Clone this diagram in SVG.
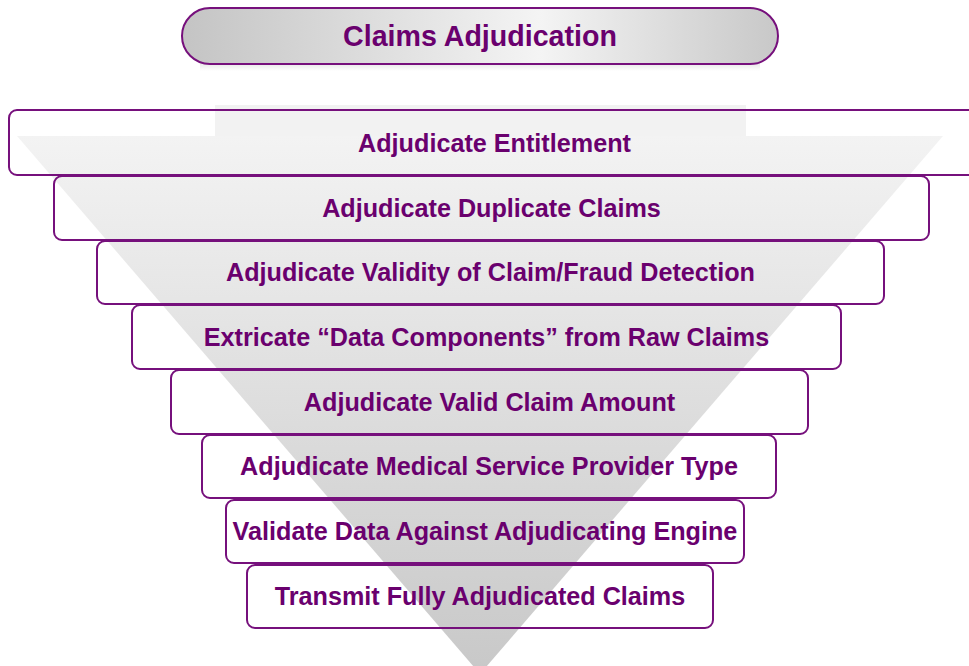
<svg xmlns="http://www.w3.org/2000/svg" width="969" height="666" viewBox="0 0 969 666">
  <defs>
    <linearGradient id="pillGrad" x1="0" y1="0" x2="1" y2="0">
      <stop offset="0" stop-color="#c4c4c4"/>
      <stop offset="0.6" stop-color="#f4f4f4"/>
      <stop offset="1" stop-color="#c8c8c8"/>
    </linearGradient>
    <linearGradient id="triGrad" x1="0" y1="136" x2="0" y2="674" gradientUnits="userSpaceOnUse">
      <stop offset="0" stop-color="#f3f3f3"/>
      <stop offset="1" stop-color="#c8c8c8"/>
    </linearGradient>
    <linearGradient id="shadowGrad" x1="0" y1="0" x2="0" y2="1">
      <stop offset="0" stop-color="#e6e6e6"/>
      <stop offset="1" stop-color="#ffffff"/>
    </linearGradient>
    <style>
      .box { fill: none; stroke: #76107c; stroke-width: 2; }
      .lbl { font-family: "Liberation Sans", Arial, sans-serif; font-weight: bold; font-size: 25.2px; fill: #6a006e; text-anchor: middle; }
      .title { font-family: "Liberation Sans", Arial, sans-serif; font-weight: bold; font-size: 28.6px; fill: #6a006e; text-anchor: middle; }
    </style>
  </defs>
  <rect width="969" height="666" fill="#ffffff"/>

  <g id="funnel">
    <rect x="215" y="105" width="531" height="32" fill="#f2f2f2"/>
    <polygon points="17,136 943,136 480,674" fill="url(#triGrad)"/>
  </g>

  <g id="title">
    <rect x="200" y="63" width="560" height="8" fill="url(#shadowGrad)"/>
    <rect x="182" y="8" width="596" height="56" rx="28" ry="28" fill="url(#pillGrad)" stroke="#76107c" stroke-width="2"/>
    <text class="title" x="480" y="46">Claims Adjudication</text>
  </g>

  <g id="connectors"/>

  <g id="step1">
    <rect class="box" x="9" y="110" width="971" height="65" rx="8"/>
    <text class="lbl" x="494.5" y="151.5">Adjudicate Entitlement</text>
  </g>
  <g id="step2">
    <rect class="box" x="54" y="176" width="875" height="64" rx="8"/>
    <text class="lbl" x="491.5" y="216.5">Adjudicate Duplicate Claims</text>
  </g>
  <g id="step3">
    <rect class="box" x="97" y="241" width="787" height="63" rx="8"/>
    <text class="lbl" x="490.5" y="281">Adjudicate Validity of Claim/Fraud Detection</text>
  </g>
  <g id="step4">
    <rect class="box" x="132" y="305" width="709" height="64" rx="8"/>
    <text class="lbl" x="486.5" y="345.5">Extricate “Data Components” from Raw Claims</text>
  </g>
  <g id="step5">
    <rect class="box" x="171" y="370" width="637" height="64" rx="8"/>
    <text class="lbl" x="489.5" y="410.5">Adjudicate Valid Claim Amount</text>
  </g>
  <g id="step6">
    <rect class="box" x="202" y="435" width="574" height="63" rx="8"/>
    <text class="lbl" x="489" y="475">Adjudicate Medical Service Provider Type</text>
  </g>
  <g id="step7">
    <rect class="box" x="226" y="500" width="518" height="63" rx="8"/>
    <text class="lbl" x="485" y="540">Validate Data Against Adjudicating Engine</text>
  </g>
  <g id="step8">
    <rect class="box" x="247" y="565" width="466" height="63" rx="8"/>
    <text class="lbl" x="480" y="605">Transmit Fully Adjudicated Claims</text>
  </g>
</svg>
